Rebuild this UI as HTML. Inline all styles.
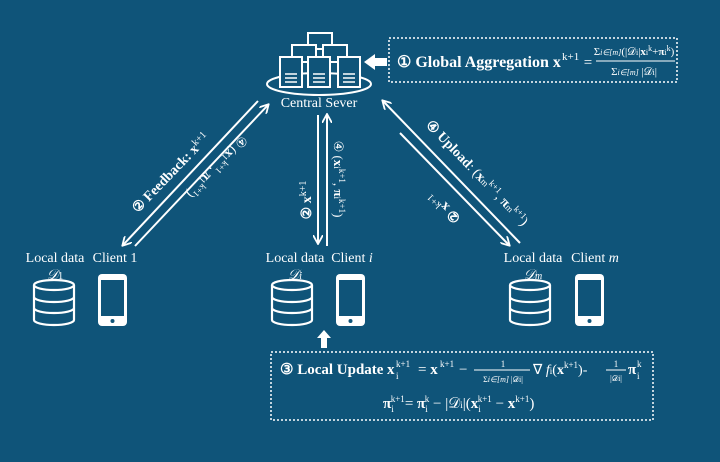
<!DOCTYPE html>
<html><head><meta charset="utf-8"><style>
html,body{margin:0;padding:0;background:#0f5479;}
svg{display:block;}
text{font-family:"Liberation Serif",serif;fill:#fff;}
</style></head><body>
<svg width="720" height="462" viewBox="0 0 720 462" xmlns="http://www.w3.org/2000/svg">
<rect width="720" height="462" fill="#0f5479"/>
<defs>
<marker id="ah" markerWidth="10" markerHeight="10" refX="8" refY="5" orient="auto" markerUnits="userSpaceOnUse">
<path d="M0,0 L9,5 L0,10" fill="none" stroke="#fff" stroke-width="1.8"/>
</marker>
</defs>
<g stroke="#fff" stroke-width="2" fill="#0f5479">
<ellipse cx="319" cy="84" rx="52" ry="11" fill="none"/>
<rect x="308" y="33" width="24" height="16"/>
<rect x="292" y="45" width="24" height="17"/>
<rect x="323" y="45" width="24" height="17"/>
<rect x="280" y="57" width="22" height="30"/>
<rect x="308" y="57" width="22" height="30"/>
<rect x="338" y="57" width="22" height="30"/>
</g>
<g stroke="#fff" stroke-width="1.5">
<line x1="285" y1="74" x2="297" y2="74"/><line x1="285" y1="78" x2="297" y2="78"/><line x1="285" y1="82" x2="297" y2="82"/>
<line x1="313" y1="74" x2="325" y2="74"/><line x1="313" y1="78" x2="325" y2="78"/><line x1="313" y1="82" x2="325" y2="82"/>
<line x1="343" y1="74" x2="355" y2="74"/><line x1="343" y1="78" x2="355" y2="78"/><line x1="343" y1="82" x2="355" y2="82"/>
</g>
<text x="319" y="107" font-size="14" text-anchor="middle">Central Sever</text>
<path d="M387,58 L375,58 L375,54 L364,62 L375,70 L375,66 L387,66 Z" fill="#fff"/>
<rect x="389" y="38" width="288" height="44" fill="none" stroke="#fff" stroke-width="1.5" stroke-dasharray="2,2"/>
<text x="397" y="67" font-size="16" font-weight="bold">① Global Aggregation x</text>
<text x="562" y="60" font-size="11">k+1</text>
<text x="588" y="67" font-size="15" text-anchor="middle">=</text>
<text x="634" y="55" font-size="11" text-anchor="middle">Σ<tspan font-size="8" font-style="italic">i∈[m]</tspan>(|𝒟<tspan font-size="8">i</tspan>|<tspan font-weight="bold">x</tspan><tspan font-size="8">i</tspan><tspan font-size="8" dy="-4">k</tspan><tspan dy="4">+</tspan><tspan font-weight="bold">π</tspan><tspan font-size="8">i</tspan><tspan font-size="8" dy="-4">k</tspan><tspan dy="4">)</tspan></text>
<line x1="596" y1="61" x2="675" y2="61" stroke="#fff" stroke-width="1"/>
<text x="634" y="75" font-size="11" text-anchor="middle">Σ<tspan font-size="8" font-style="italic">i∈[m]</tspan> |𝒟<tspan font-size="8">i</tspan>|</text>

<g stroke="#fff" stroke-width="2" fill="none">
<line x1="258" y1="101" x2="123" y2="245" marker-end="url(#ah)"/>
<line x1="135" y1="246" x2="268" y2="105" marker-end="url(#ah)"/>
<line x1="318" y1="115" x2="318" y2="243" marker-end="url(#ah)"/>
<line x1="327" y1="246" x2="327" y2="115" marker-end="url(#ah)"/>
<line x1="400" y1="133" x2="509" y2="245" marker-end="url(#ah)"/>
<line x1="520" y1="243" x2="383" y2="101" marker-end="url(#ah)"/>
</g>
<text transform="translate(174,176) rotate(-46)" font-size="14" text-anchor="middle" font-weight="bold">② Feedback: x<tspan font-size="10" dy="-5" font-weight="normal">k+1</tspan></text>
<text transform="translate(214,164) rotate(134)" font-size="13" text-anchor="middle">④ (<tspan font-weight="bold">x</tspan><tspan font-size="9">1</tspan><tspan font-size="9" dy="-5">k+1</tspan><tspan dy="5">, </tspan><tspan font-weight="bold">π</tspan><tspan font-size="9">1</tspan><tspan font-size="9" dy="-5">k+1</tspan><tspan dy="5">)</tspan></text>
<text transform="translate(311,200) rotate(-90)" font-size="14" text-anchor="middle" font-weight="bold">② x<tspan font-size="10" dy="-5" font-weight="normal">k+1</tspan></text>
<text transform="translate(334,179) rotate(90)" font-size="13" text-anchor="middle">④ (<tspan font-weight="bold">x</tspan><tspan font-size="9">i</tspan><tspan font-size="9" dy="-5">k+1</tspan><tspan dy="5">, </tspan><tspan font-weight="bold">π</tspan><tspan font-size="9">i</tspan><tspan font-size="9" dy="-5">k+1</tspan><tspan dy="5">)</tspan></text>
<text transform="translate(474,176) rotate(46)" font-size="14" text-anchor="middle"><tspan font-weight="bold">④ Upload</tspan>: (<tspan font-weight="bold">x</tspan><tspan font-size="9">m</tspan><tspan font-size="9" dy="-5">k+1</tspan><tspan dy="5">, </tspan><tspan font-weight="bold">π</tspan><tspan font-size="9">m</tspan><tspan font-size="9" dy="-5">k+1</tspan><tspan dy="5">)</tspan></text>
<text transform="translate(448,204) rotate(226)" font-size="14" text-anchor="middle" font-weight="bold">② x<tspan font-size="10" dy="-5" font-weight="normal">k+1</tspan></text>

<g font-size="14">
<text x="55" y="262" text-anchor="middle">Local data</text>
<text x="55" y="279" text-anchor="middle" font-style="italic">𝒟<tspan font-size="10" font-style="normal">1</tspan></text>
<text x="115" y="262" text-anchor="middle">Client 1</text>
<text x="295" y="262" text-anchor="middle">Local data</text>
<text x="295" y="279" text-anchor="middle" font-style="italic">𝒟<tspan font-size="10">i</tspan></text>
<text x="352" y="262" text-anchor="middle">Client <tspan font-style="italic">i</tspan></text>
<text x="533" y="262" text-anchor="middle">Local data</text>
<text x="533" y="279" text-anchor="middle" font-style="italic">𝒟<tspan font-size="10">m</tspan></text>
<text x="595" y="262" text-anchor="middle">Client <tspan font-style="italic">m</tspan></text>
</g>
<g stroke="#fff" stroke-width="2.2" fill="none">
<g id="db">
<ellipse cx="54" cy="285" rx="20" ry="5"/>
<path d="M34,285 V320 A20,5 0 0 0 74,320 V285"/>
<path d="M34,297 A20,5 0 0 0 74,297"/>
<path d="M34,308 A20,5 0 0 0 74,308"/>
</g>
<use href="#db" x="238"/>
<use href="#db" x="476"/>
<g id="ph">
<rect x="98" y="274" width="29" height="52" rx="4" fill="#fff" stroke="none"/>
<rect x="101" y="280" width="23" height="36" fill="#0f5479" stroke="none"/>
<circle cx="112.5" cy="321" r="2" fill="#0f5479" stroke="none"/>
</g>
<use href="#ph" x="238"/>
<use href="#ph" x="477"/>
</g>
<path d="M321,348 L321,338 L317,338 L324,330 L331,338 L327,338 L327,348 Z" fill="#fff"/>
<rect x="271" y="352" width="382" height="68" fill="none" stroke="#fff" stroke-width="1.5" stroke-dasharray="2,2"/>
<text x="280" y="374" font-size="15" font-weight="bold">③ Local Update</text>
<text x="387" y="374" font-size="15" font-weight="bold">x</text>
<text x="396" y="379" font-size="9">i</text>
<text x="396" y="367" font-size="9">k+1</text>
<text x="418" y="374" font-size="15">= <tspan font-weight="bold">x</tspan></text>
<text x="440" y="367" font-size="9">k+1</text>
<text x="459" y="374" font-size="15">−</text>
<text x="503" y="367" font-size="9" text-anchor="middle">1</text>
<line x1="474" y1="370" x2="530" y2="370" stroke="#fff" stroke-width="1"/>
<text x="503" y="382" font-size="8" text-anchor="middle">Σ<tspan font-style="italic">i∈[m]</tspan> |𝒟<tspan>i</tspan>|</text>
<text x="533" y="374" font-size="14">∇ <tspan font-style="italic">f</tspan><tspan font-size="9">i</tspan>(<tspan font-weight="bold">x</tspan><tspan font-size="9" dy="-6">k+1</tspan><tspan dy="6">)-</tspan></text>
<text x="616" y="367" font-size="9" text-anchor="middle">1</text>
<line x1="606" y1="370" x2="626" y2="370" stroke="#fff" stroke-width="1"/>
<text x="616" y="381" font-size="8" text-anchor="middle">|𝒟i|</text>
<text x="628" y="374" font-size="15" font-weight="bold">π</text>
<text x="637" y="379" font-size="9">i</text>
<text x="637" y="367" font-size="9">k</text>
<text x="383" y="408" font-size="15"><tspan font-weight="bold">π</tspan><tspan font-size="9" dy="4">i</tspan><tspan font-size="9" dx="-3" dy="-10">k+1</tspan><tspan dy="6">= </tspan><tspan font-weight="bold">π</tspan><tspan font-size="9" dy="4">i</tspan><tspan font-size="9" dx="-3" dy="-10">k</tspan><tspan dy="6">  − |𝒟</tspan><tspan font-size="9">i</tspan>|(<tspan font-weight="bold">x</tspan><tspan font-size="9" dy="4">i</tspan><tspan font-size="9" dx="-3" dy="-10">k+1</tspan><tspan dy="6">  − </tspan><tspan font-weight="bold">x</tspan><tspan font-size="9" dy="-6">k+1</tspan><tspan dy="6">)</tspan></text>
</svg>
</body></html>
